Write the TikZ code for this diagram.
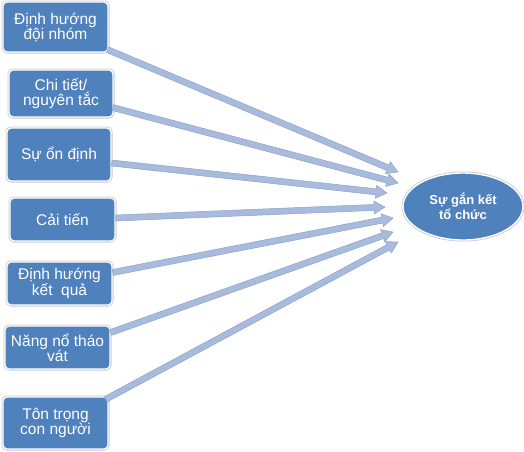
\documentclass[tikz,border=0pt]{standalone}
\usepackage{fontspec}
\setmainfont{Liberation Sans}
\usetikzlibrary{calc,shapes.geometric}
\definecolor{boxblue}{HTML}{4F81BD}
\definecolor{arrfill}{HTML}{A9BBDD}
\definecolor{arrline}{HTML}{8EA3CB}
\definecolor{ringgray}{HTML}{C8C8C8}
\tikzset{
  boxnode/.style={rectangle, rounded corners=4pt, fill=boxblue, draw=white, line width=1.4pt,
    preaction={draw=ringgray, line width=3pt}, text=white, align=center,
    font=\fontsize{15.5}{15}\selectfont, inner sep=0pt},
  ellnode/.style={ellipse, fill=boxblue, draw=white, line width=1.4pt,
    preaction={draw=ringgray, line width=3pt}, text=white, align=center,
    font=\bfseries\fontsize{13}{14.5}\selectfont, inner sep=0pt, minimum width=120pt, minimum height=67pt},
  arrowshape/.style={fill=arrfill, draw=arrline, line width=0.5pt, line join=miter}
}
\newcommand\blockarr[2]{%
  \path ($(#2)!11pt!(#1)$) coordinate (hb);
  \draw[arrowshape]
    ($(#1)!3pt!90:(#2)$) -- ($(hb)!3pt!-90:(#1)$) -- ($(hb)!6.5pt!-90:(#1)$) -- (#2)
    -- ($(hb)!6.5pt!90:(#1)$) -- ($(hb)!3pt!90:(#1)$) -- ($(#1)!3pt!-90:(#2)$) -- cycle;
}
\begin{document}
\begin{tikzpicture}[x=1pt,y=-1pt]
\useasboundingbox (0,0) rectangle (524,451);
\coordinate (t1) at (398,172);
\coordinate (t2) at (398,183);
\coordinate (t3) at (387,193);
\coordinate (t4) at (385,207);
\coordinate (t5) at (393,218);
\coordinate (t6) at (393,232);
\coordinate (t7) at (398,242);

\node[boxnode, minimum width=105pt, minimum height=50pt] (b1) at (55.5,27) {Định hướng\\đội nhóm};
\node[boxnode, minimum width=104pt, minimum height=47pt] (b2) at (61,93.5) {Chi tiết/\\nguyên tắc};
\node[boxnode, minimum width=104pt, minimum height=53pt] (b3) at (59,154.5) {Sự ổn định};
\node[boxnode, minimum width=105pt, minimum height=43pt] (b4) at (62.5,219.5) {Cải tiến};
\node[boxnode, minimum width=105pt, minimum height=43pt] (b5) at (59.5,283.5) {Định hướng\\kết\ \ quả};
\node[boxnode, minimum width=105pt, minimum height=43pt] (b6) at (57.5,347.5) {Năng nổ tháo\\vát};
\node[boxnode, minimum width=105pt, minimum height=52pt] (b7) at (55.5,423) {Tôn trọng\\con người};
\node[ellnode] (e) at (463,206.5) {Sự gắn kết\\tổ chức};

\coordinate (s1) at ($(b1.south east)+(-1,-3)$);
\coordinate (s2) at ($(b2.east)+(-1,14)$);
\coordinate (s3) at ($(b3.east)+(0,8.5)$);
\coordinate (s4) at ($(b4.east)+(0,-1.5)$);
\coordinate (s5) at ($(b5.east)+(0,-11)$);
\coordinate (s6) at ($(b6.east)+(0,-15)$);
\coordinate (s7) at ($(b7.north east)+(-3,3)$);

\blockarr{s1}{t1}
\blockarr{s2}{t2}
\blockarr{s3}{t3}
\blockarr{s4}{t4}
\blockarr{s5}{t5}
\blockarr{s6}{t6}
\blockarr{s7}{t7}
\end{tikzpicture}
\end{document}
